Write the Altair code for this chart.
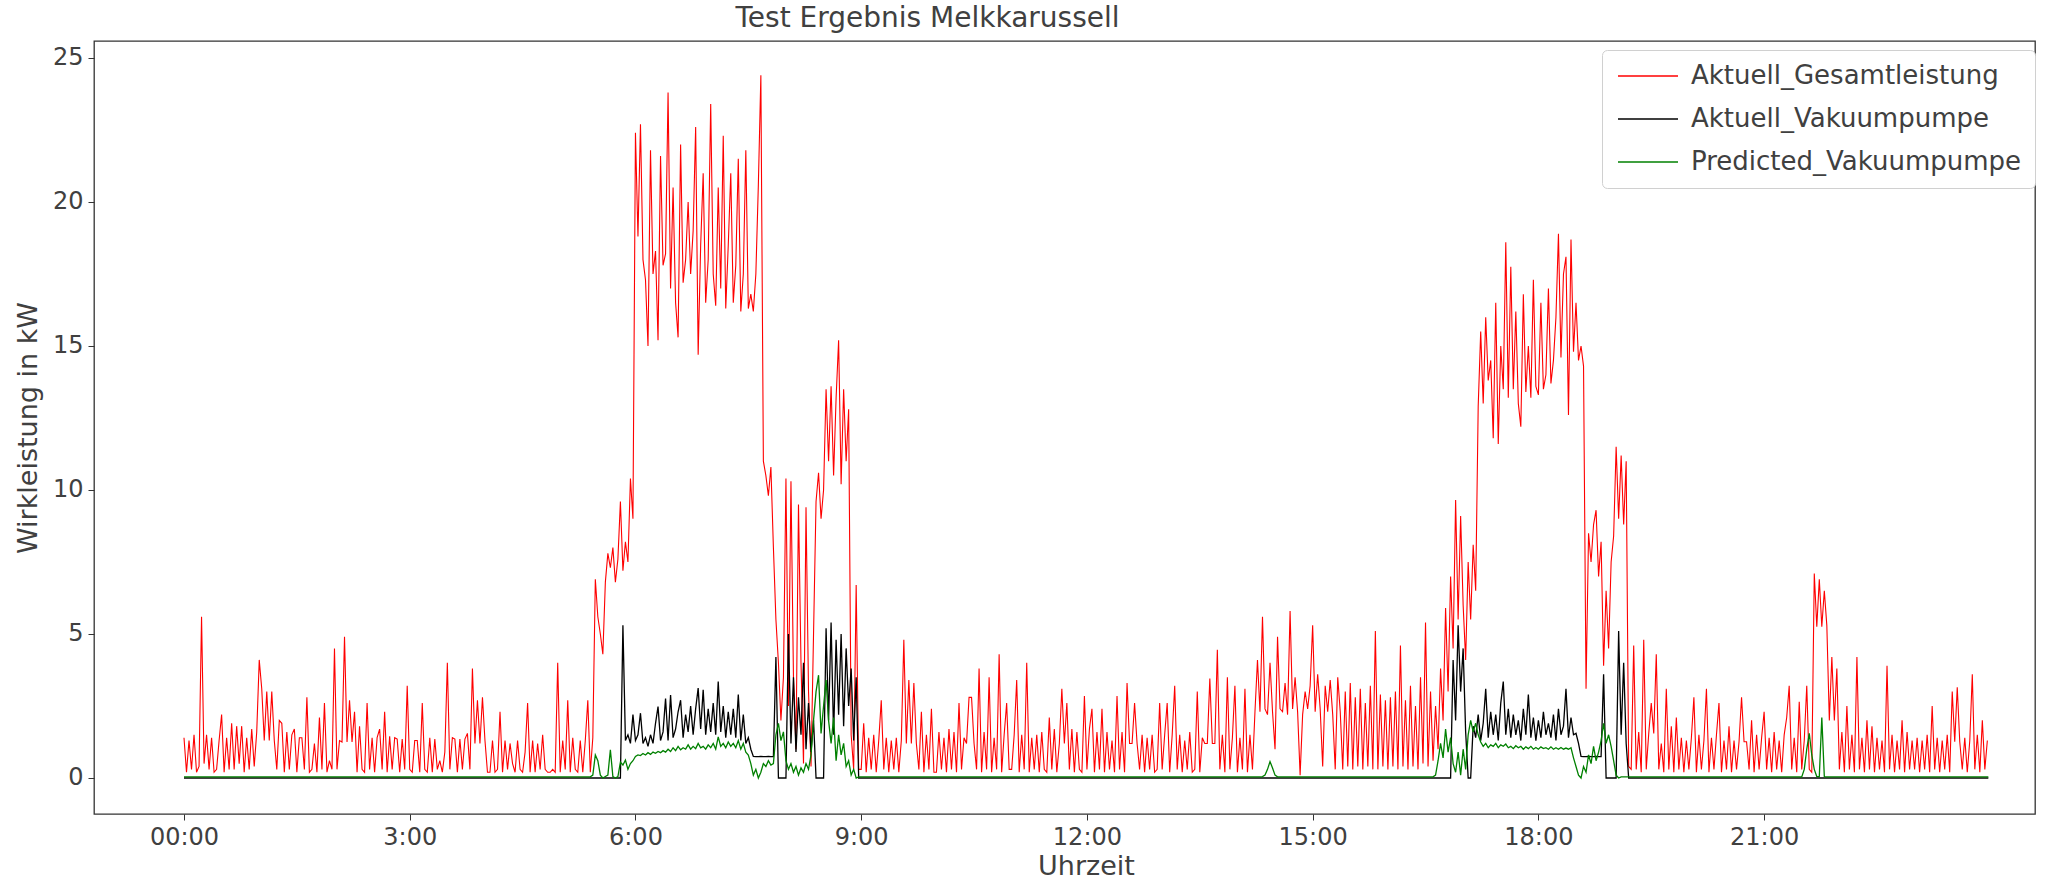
import altair as alt
import pandas as pd

# ---------------- data (kW) ----------------
SERIES = ["Aktuell_Gesamtleistung", "Aktuell_Vakuumpumpe", "Predicted_Vakuumpumpe"]
COLORS = ["#ff0000", "#000000", "#008000"]
STEP_MIN = 2  # sampling step of all listed readings (minutes)

# Aktuell_Gesamtleistung: one row per hour (00:00 .. 23:58), 2-minute readings
red_kw = [
    1.4,0.2,1.3,0.3,1.5,0.2,0.4,5.6,0.5,1.5, 0.3,1.4,0.2,0.3,1.3,2.2,0.2,1.4,0.3,1.9, 0.3,1.8,0.5,1.8,0.2,1.4,0.3,1.7,0.4,1.6,
    4.1,3.1,1.3,3.0,1.3,3.0,1.3,0.3,2.0,1.9, 0.2,1.6,0.3,1.5,1.7,0.2,1.4,1.4,0.3,2.8, 0.2,0.3,1.2,0.2,2.1,0.3,2.6,0.2,0.6,0.3,
    4.5,0.3,1.3,1.25,4.9,1.25,2.7,1.25,2.3,0.2, 1.8,0.3,0.2,2.6,0.3,1.4,0.2,1.4,1.7,0.3, 2.3,0.2,1.45,0.3,1.4,1.35,0.2,1.35,0.3,3.2,
    0.3,0.2,1.3,1.3,0.2,2.6,0.3,0.2,1.4,0.2, 1.35,0.3,0.6,0.2,0.9,4.0,0.3,1.4,1.35,0.2, 1.35,0.3,1.35,1.55,0.3,3.8,1.2,2.7,1.2,2.8,
    1.3,0.2,0.2,1.3,0.2,0.3,2.3,0.2,1.3,0.3, 1.2,0.5,0.2,1.3,0.3,0.2,0.9,2.6,0.2,1.3, 0.2,1.2,0.3,1.5,0.3,0.2,0.2,0.3,0.2,4.0,
    0.2,1.3,0.3,2.7,0.2,1.4,0.3,0.2,1.3,0.2, 1.3,2.7,0.2,1.4,6.9,5.6,5.0,4.3,6.8,7.8, 7.3,8.0,6.8,7.6,9.6,7.2,8.2,7.5,10.4,9.0,
    22.4,18.8,22.7,18.0,17.3,15.0,21.8,17.5,18.3,15.2, 21.6,17.8,18.2,23.8,17.0,20.5,16.5,15.3,22.0,17.2, 18.0,20.0,17.5,19.0,22.6,14.7,18.5,21.0,16.5,18.0,
    23.4,17.5,16.4,20.5,17.0,22.3,16.3,18.5,21.0,16.5, 17.8,21.5,16.2,17.5,21.8,16.3,16.8,16.2,17.5,20.6, 24.4,11.0,10.5,9.8,10.8,8.0,5.5,4.0,2.0,3.5,
    10.4,2.5,10.3,3.5,1.0,9.5,4.0,0.5,9.4,3.0, 0.4,5.0,9.6,10.6,9.0,10.0,13.5,11.0,13.6,10.5, 13.2,15.2,10.2,13.5,11.0,12.8,1.5,0.3,6.7,0.3,
    0.3,1.9,0.2,1.4,0.3,1.5,0.2,1.3,2.7,0.3, 1.4,0.2,1.3,0.3,1.4,0.2,1.3,4.8,1.2,3.4, 1.2,3.3,1.2,0.3,2.3,0.2,1.5,0.3,2.4,0.2,
    0.2,1.6,0.3,1.4,0.2,1.7,0.3,1.6,0.2,2.6, 0.3,1.4,1.2,2.8,2.8,1.2,0.3,3.8,0.2,1.6, 0.3,3.5,0.2,1.4,0.3,4.3,0.2,1.5,2.6,0.3,
    0.3,1.5,3.4,0.2,1.5,0.3,4.0,0.2,1.4,0.3, 1.5,0.2,1.6,0.3,0.2,2.1,0.3,1.7,0.2,1.2, 3.1,1.2,2.6,0.3,1.7,0.2,1.6,0.3,0.2,2.85,
    0.3,1.7,2.4,0.2,1.6,0.3,2.4,0.2,1.6,0.3, 1.3,0.2,2.85,0.3,1.6,0.2,3.3,1.2,1.2,2.6, 1.2,0.3,1.5,0.2,1.4,0.3,1.5,0.2,0.3,2.6,
    0.3,1.5,2.6,0.2,1.5,3.2,0.3,1.5,0.2,1.3, 0.3,1.6,0.2,0.3,3.0,0.2,1.4,1.2,1.2,3.45, 1.2,1.2,4.45,0.3,1.5,0.2,3.5,0.3,1.4,3.2,
    0.2,1.4,0.3,3.1,0.2,1.5,0.3,2.3,4.1,2.3, 5.6,2.4,2.2,4.0,2.3,1.0,4.9,2.4,2.3,3.3, 2.2,5.8,2.4,3.5,2.3,0.1,2.2,3.0,2.4,3.2,
    5.3,2.3,3.6,2.4,0.4,3.2,2.3,3.4,2.2,0.3, 3.5,2.3,0.3,3.0,0.4,3.3,0.3,2.8,0.4,3.1, 0.3,2.6,0.4,3.2,0.3,5.1,0.3,2.9,0.4,2.7,
    0.3,2.8,0.4,3.0,0.3,4.6,0.4,2.7,0.3,3.2, 0.4,2.5,0.3,3.5,0.5,5.4,0.4,3.0,0.6,2.5, 1.0,3.8,2.0,5.9,3.0,7.0,4.5,9.65,5.5,9.1,
    6.0,4.1,7.5,5.5,8.1,6.5,12.9,15.5,13.0,16.0, 13.8,14.5,11.8,16.5,11.6,15.0,13.5,18.6,13.2,17.75, 13.5,16.2,13.0,12.2,16.8,13.4,15.0,13.2,17.3,13.6,
    13.3,16.5,13.5,14.0,17.0,13.7,14.5,16.0,18.9,14.6, 17.5,18.1,12.6,18.7,14.8,16.5,14.5,15.0,14.3,3.1, 8.5,7.5,8.8,9.3,7.0,8.2,3.9,6.5,4.5,7.5,
    8.4,11.5,9.0,11.2,8.8,11.0,0.4,0.3,4.6,0.3, 1.6,0.2,4.8,0.3,1.55,2.6,1.55,4.3,0.3,1.2, 0.2,3.1,0.3,1.8,0.2,2.1,0.3,1.4,0.2,1.3,
    0.3,1.4,2.8,0.2,1.5,0.3,1.3,3.1,0.2,1.4, 0.3,1.5,2.6,0.2,1.3,0.3,1.8,0.2,1.3,0.3, 1.26,2.8,1.26,1.26,0.3,2.0,0.2,1.5,0.3,1.4,
    2.3,0.3,1.4,0.2,1.6,0.3,1.3,0.2,1.5,2.1, 3.2,0.3,1.4,0.2,2.65,0.3,1.3,3.2,0.3,0.2, 7.1,5.25,6.9,5.25,6.5,5.3,2.0,4.2,2.0,3.8,
    0.3,1.6,0.2,2.5,0.3,1.5,0.2,4.2,0.3,1.4, 0.2,2.0,0.3,1.8,0.2,1.4,0.3,1.3,0.2,3.9, 0.3,1.5,0.2,1.3,0.3,2.0,0.2,1.6,0.3,1.3,
    0.3,1.4,0.2,1.3,0.3,1.5,0.2,2.5,0.3,1.4, 0.2,1.3,0.3,1.5,0.2,3.0,1.26,3.15,1.26,0.3, 1.4,0.2,1.3,3.6,0.3,1.5,0.2,2.0,0.3,1.3,
]

# Aktuell_Vakuumpumpe: flat 0 outside the two milking windows
black_idle_h = [0.0, 23.98]
black_idle_kw = [0.0, 0.0]
black_morning_start_h = 5.8
black_morning_kw = [
    0.0,5.3,1.3,1.5,1.2,2.2,1.3,1.5,2.25,1.2, 1.4,1.1,1.5,1.2,1.9,2.48,1.3,1.6,2.76,1.3,
    2.88,1.4,1.7,2.3,2.7,1.4,2.2,1.6,2.5,1.5, 2.4,3.12,1.7,3.06,1.5,2.4,1.6,2.6,1.5,3.35,
    1.6,2.5,1.4,2.3,1.5,2.4,1.4,2.9,1.3,2.2, 1.2,1.4,1.0,0.75,0.74,0.74,0.75,0.74,0.74,0.75,
    0.74,0.74,4.2,0.0,0.0,0.0,0.0,5.0,1.2,3.5, 0.9,2.8,1.5,4.0,1.0,2.6,0.9,2.0,0.0,0.0,
    0.0,0.0,5.2,2.0,5.4,1.5,4.8,2.2,5.0,1.8, 4.5,2.5,3.8,1.3,3.5,0.0,
]
black_evening_start_h = 16.8333
black_evening_kw = [
    0.0,4.1,2.0,5.3,3.0,4.5,1.6,0.0,0.0,1.8, 1.4,2.2,1.3,1.9,3.1,1.4,2.3,1.5,2.2,1.3,
    2.6,3.35,1.5,2.4,1.4,2.2,1.5,2.0,1.3,2.4, 1.5,2.9,1.4,2.1,1.3,2.0,1.4,2.3,1.5,1.9,
    1.4,2.2,1.3,2.4,1.5,1.8,3.1,1.4,2.1,1.5, 1.55,1.2,0.75,0.74,0.74,0.75,0.74,0.74,0.75,0.74,
    0.74,3.6,0.0,0.0,0.0,0.0,0.0,5.1,1.5,4.0, 1.2,0.0,
]

# Predicted_Vakuumpumpe: ~0.04 outside the listed windows
green_idle_h = [0.0, 23.98]
green_idle_kw = [0.04, 0.04]
green_morning_start_h = 5.4
green_morning_kw = [
    0.04,0.1,0.8,0.6,0.1,0.0,0.05,0.1,0.98,0.05, 0.0,0.05,0.55,0.45,0.62,0.3,0.5,0.6,0.75,0.8,
    0.78,0.85,0.8,0.88,0.82,0.9,0.86,0.92,0.88,0.95, 0.9,1.0,0.92,1.05,0.95,1.1,0.98,1.05,1.0,1.15,
    1.0,1.1,1.02,1.2,1.05,1.1,1.0,1.15,1.05,1.2, 1.0,1.43,1.1,1.2,1.05,1.25,1.1,1.2,1.05,1.3,
    1.0,1.2,0.9,0.8,0.5,0.1,0.3,0.0,0.2,0.5, 0.4,0.6,0.45,0.5,1.5,1.9,1.3,1.6,0.6,0.3,
    0.5,0.2,0.4,0.1,0.35,0.2,0.5,0.3,0.8,2.0, 3.0,3.57,1.55,2.5,3.4,2.0,1.2,2.1,0.6,1.5,
    0.8,1.2,0.4,0.6,0.1,0.3,0.0,0.04,
]
green_midday_start_h = 14.3
green_midday_kw = [0.04,0.05,0.1,0.3,0.57,0.35,0.1,0.04]
green_evening_start_h = 16.6
green_evening_kw = [
    0.04,0.1,0.6,1.2,0.7,1.7,0.9,1.4,0.5,0.2, 0.9,0.1,1.0,0.3,1.5,2.0,1.6,1.9,1.5,1.25,
    1.1,1.2,1.05,1.15,1.1,1.2,1.05,1.15,1.1,1.18, 1.05,1.1,1.02,1.12,1.05,1.1,1.0,1.08,1.02,1.1,
    1.0,1.06,1.0,1.08,1.02,1.05,1.0,1.08,1.0,1.05, 1.0,1.06,1.0,1.04,1.0,1.05,0.7,0.4,0.1,0.0,
    0.4,0.2,0.8,0.5,1.1,0.6,0.9,1.3,1.9,1.2, 1.5,1.1,0.6,0.1,0.0,0.04,
]
green_night_start_h = 21.5
green_night_kw = [0.04,0.3,1.0,1.55,0.8,0.3,0.05,0.05,2.1,0.05,0.04]

# ---------------- assemble long table ----------------
step_h = STEP_MIN / 60.0
rows = []
for i, v in enumerate(red_kw):
    rows.append((SERIES[0], i * step_h, v))


def add_window(name, start, values):
    for i, v in enumerate(values):
        rows.append((name, start + i * step_h, v))


for h, v in zip(black_idle_h, black_idle_kw):
    rows.append((SERIES[1], h, v))
add_window(SERIES[1], black_morning_start_h, black_morning_kw)
add_window(SERIES[1], black_evening_start_h, black_evening_kw)

for h, v in zip(green_idle_h, green_idle_kw):
    rows.append((SERIES[2], h, v))
add_window(SERIES[2], green_morning_start_h, green_morning_kw)
add_window(SERIES[2], green_midday_start_h, green_midday_kw)
add_window(SERIES[2], green_evening_start_h, green_evening_kw)
add_window(SERIES[2], green_night_start_h, green_night_kw)

df = pd.DataFrame(rows, columns=["series", "h", "kw"]).sort_values(["series", "h"])

# ---------------- chart ----------------
FONT = "DejaVu Sans"
TXT = "#404040"
x_ticks = [0, 3, 6, 9, 12, 15, 18, 21]
y_ticks = [0, 5, 10, 15, 20, 25]

x_enc = alt.X(
    "h:Q",
    scale=alt.Scale(domain=[-1.196, 24.6], nice=False, zero=False),
    axis=alt.Axis(
        values=x_ticks,
        labelExpr="datum.value == 0 ? '00:00' : datum.value + ':00'",
        title="Uhrzeit",
        grid=False, domain=False, ticks=True, tickSize=6, tickColor="#333",
        labelFontSize=24, labelColor=TXT, labelFont=FONT, labelPadding=5,
        titleFontSize=27, titleFontWeight="normal", titleColor=TXT, titleFont=FONT,
        titlePadding=4, titleX=992, titleAlign="center",
    ),
)
y_enc = alt.Y(
    "kw:Q",
    scale=alt.Scale(domain=[-1.25, 25.59], nice=False, zero=False),
    axis=alt.Axis(
        values=y_ticks,
        title="Wirkleistung in kW",
        grid=False, domain=False, ticks=True, tickSize=6, tickColor="#333",
        labelFontSize=24, labelColor=TXT, labelFont=FONT, labelPadding=5,
        titleFontSize=27, titleFontWeight="normal", titleColor=TXT, titleFont=FONT,
        titlePadding=10,
    ),
)
color_enc = alt.Color(
    "series:N",
    scale=alt.Scale(domain=SERIES, range=COLORS),
    legend=alt.Legend(
        title=None, orient="none", legendX=1508, legendY=9,
        labelFontSize=26, labelFont=FONT, labelColor=TXT, labelLimit=0,
        symbolType="M-3,0L3,0", symbolSize=400, symbolStrokeWidth=1.5,
        fillColor="white", strokeColor="#d0d0d0", cornerRadius=5,
        padding=13, rowPadding=17, labelOffset=30, symbolOffset=20,
    ),
)


def layer_for(name, width):
    return (
        alt.Chart(df[df["series"] == name])
        .mark_line(strokeWidth=width)
        .encode(x=x_enc, y=y_enc, color=color_enc, order="h:Q")
    )


chart = (
    alt.layer(
        layer_for(SERIES[0], 1.1),
        layer_for(SERIES[1], 1.3),
        layer_for(SERIES[2], 1.3),
    )
    .properties(
        width=1941,
        height=773,
        padding={"left": 94, "top": 41, "right": 37, "bottom": 69},
        autosize=alt.AutoSizeParams(type="none"),
        title=alt.TitleParams(
            "Test Ergebnis Melkkarussell", fontSize=28, font=FONT,
            fontWeight="normal", color=TXT, anchor="middle", dx=-137, offset=8,
        ),
    )
    .configure(font=FONT, background="white")
    .configure_view(stroke="#333", strokeWidth=1.3)
)

chart.save("out.html", embed_options={"renderer": "svg", "actions": False})
